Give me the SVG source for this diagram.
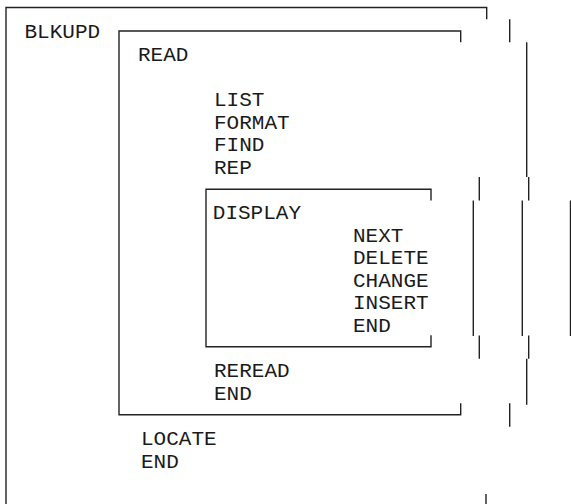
<svg xmlns="http://www.w3.org/2000/svg" width="571" height="504" viewBox="0 0 571 504">
<style>
.ln{stroke:#222;stroke-width:1.4;fill:none;stroke-linecap:butt}
.t{font-family:"Liberation Mono","DejaVu Sans Mono",monospace;font-size:21px;fill:#1a1a1a}
</style>
<rect width="571" height="504" fill="#fff"/>
<g id="blkupd">
<path class="ln" d="M6,504 V7.5 H486.7 V19.3"/>
<text class="t" x="24.5" y="38.2">BLKUPD</text>
<text class="t" x="141" y="445">LOCATE</text>
<text class="t" x="141" y="467.6">END</text>
</g>
<g id="read">
<path class="ln" d="M460.7,42.3 V31 H119 V414.7 H460.7 V403.3"/>
<text class="t" x="138" y="60.8">READ</text>
<text class="t" x="214" y="106">LIST</text>
<text class="t" x="214" y="128.6">FORMAT</text>
<text class="t" x="214" y="151.2">FIND</text>
<text class="t" x="214" y="173.8">REP</text>
<text class="t" x="214" y="377.2">REREAD</text>
<text class="t" x="214" y="399.8">END</text>
</g>
<g id="display">
<path class="ln" d="M431,200.5 V189.3 H206 V346.7 H431 V335.3"/>
<text class="t" x="212.8" y="219">DISPLAY</text>
<text class="t" x="353" y="241.6">NEXT</text>
<text class="t" x="353" y="264.2">DELETE</text>
<text class="t" x="353" y="286.8">CHANGE</text>
<text class="t" x="353" y="309.4">INSERT</text>
<text class="t" x="353" y="332">END</text>
</g>
<g id="right-edge-fragments">
<path class="ln" d="M509.7,19.3 V42.3 M526.7,42.3 V177 M479.3,177 V200.5 M528.7,177 V200.5 M473.3,200.5 V336 M522.3,200.5 V336 M570.5,200.5 V336 M479.3,335.5 V358.7 M528.7,335.5 V358.7 M526.7,358.7 V404.7 M509.7,403.3 V426.7 M486,494 V504"/>
</g>
</svg>
